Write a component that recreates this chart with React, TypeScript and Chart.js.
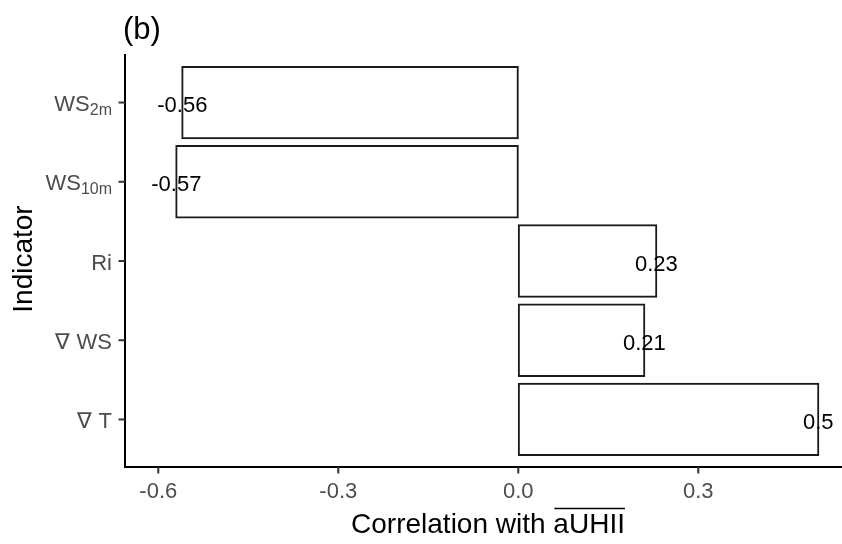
import { useEffect, useRef } from "react";
import { Chart, registerables } from "chart.js";

Chart.register(...registerables);

// Indicators, top to bottom
const indicatorNames = ["WS", "WS", "Ri", "\u2207 WS", "\u2207 T"];
const indicatorSubscripts = ["2m", "10m", "", "", ""];
// Correlation of each indicator with the mean aUHII
const correlations = [-0.56, -0.57, 0.23, 0.21, 0.5];
// Horizontal axis
const xTickValues = [-0.6, -0.3, 0.0, 0.3];
const xTickLabels = ["-0.6", "-0.3", "0.0", "0.3"];
const xLimits = [-0.6555, 0.5395];

const FONT = '"Liberation Sans", Arial, Helvetica, sans-serif';
const TICK_COLOR = "#4D4D4D";

const annotations = {
  id: "annotations",
  afterDatasetsDraw(chart: any) {
    const { ctx, chartArea, scales } = chart;
    const xs = scales.x;
    const ys = scales.y;
    ctx.save();

    // value labels centred on the end of each bar
    ctx.fillStyle = "#000";
    ctx.font = `22px ${FONT}`;
    ctx.textAlign = "center";
    ctx.textBaseline = "alphabetic";
    correlations.forEach((v, i) => {
      ctx.fillText(String(v), xs.getPixelForValue(v), ys.getPixelForValue(i) + 9.5);
    });

    // y axis ticks and labels (with subscripts)
    ctx.strokeStyle = "#333";
    ctx.lineWidth = 2;
    indicatorNames.forEach((name, i) => {
      const py = ys.getPixelForValue(i);
      ctx.beginPath();
      ctx.moveTo(chartArea.left - 6.5, py);
      ctx.lineTo(chartArea.left, py);
      ctx.stroke();

      const sub = indicatorSubscripts[i];
      ctx.font = `22px ${FONT}`;
      const wMain = ctx.measureText(name).width;
      ctx.font = `16px ${FONT}`;
      const wSub = sub ? ctx.measureText(sub).width : 0;
      const right = chartArea.left - 13;
      const start = right - wMain - wSub;
      ctx.fillStyle = TICK_COLOR;
      ctx.textAlign = "left";
      ctx.font = `22px ${FONT}`;
      ctx.fillText(name, start, py + 8.5);
      if (sub) {
        ctx.font = `16px ${FONT}`;
        ctx.fillText(sub, start + wMain, py + 12);
      }
    });

    // x axis ticks and labels
    ctx.font = `22px ${FONT}`;
    ctx.textAlign = "center";
    xTickValues.forEach((v, i) => {
      const px = xs.getPixelForValue(v);
      ctx.beginPath();
      ctx.moveTo(px, chartArea.bottom);
      ctx.lineTo(px, chartArea.bottom + 6.5);
      ctx.stroke();
      ctx.fillStyle = TICK_COLOR;
      ctx.fillText(xTickLabels[i], px, chartArea.bottom + 31);
    });

    // x axis title with overlined aUHII
    ctx.fillStyle = "#000";
    ctx.font = `28px ${FONT}`;
    ctx.textAlign = "left";
    const pre = "Correlation with ";
    const over = "aUHII";
    const wPre = ctx.measureText(pre).width;
    const wOver = ctx.measureText(over).width;
    const tx = 488 - (wPre + wOver) / 2;
    const tb = chartArea.bottom + 66;
    ctx.fillText(pre, tx, tb);
    ctx.fillText(over, tx + wPre, tb);
    ctx.strokeStyle = "#000";
    ctx.lineWidth = 1.6;
    ctx.beginPath();
    ctx.moveTo(tx + wPre + 1, tb - 24.5);
    ctx.lineTo(tx + wPre + wOver, tb - 24.5);
    ctx.stroke();

    // y axis title
    ctx.save();
    ctx.translate(32, (chartArea.top + chartArea.bottom) / 2 - 2);
    ctx.rotate(-Math.PI / 2);
    ctx.textAlign = "center";
    ctx.fillText("Indicator", 0, 0);
    ctx.restore();

    // panel tag
    ctx.font = `31px ${FONT}`;
    ctx.textAlign = "left";
    ctx.fillText("(b)", 123, 39);

    ctx.restore();
  },
};

export default function App() {
  const canvasRef = useRef<HTMLCanvasElement | null>(null);

  useEffect(() => {
    const canvas = canvasRef.current;
    if (!canvas) return;
    const chart = new Chart(canvas, {
      type: "bar",
      data: {
        datasets: [
          {
            data: correlations.map((v, i) => ({ x: v, y: i })),
            backgroundColor: "#FFFFFF",
            borderColor: "#1A1A1A",
            borderWidth: 2,
            borderSkipped: false,
            inflateAmount: 1,
            barPercentage: 0.9,
            categoryPercentage: 1,
          },
        ],
      },
      options: {
        indexAxis: "y",
        responsive: false,
        animation: false,
        devicePixelRatio: 1,
        layout: { padding: { left: 125, top: 55, right: 0, bottom: 77 } },
        plugins: {
          legend: { display: false },
          tooltip: { enabled: false },
          title: { display: false },
        },
        scales: {
          x: {
            type: "linear",
            min: xLimits[0],
            max: xLimits[1],
            afterBuildTicks: (scale: any) => {
              scale.ticks = xTickValues.map((v) => ({ value: v }));
            },
            ticks: { display: false },
            grid: { display: true, drawOnChartArea: false, drawTicks: false },
            border: { display: true, color: "#000", width: 2 },
          },
          y: {
            type: "linear",
            reverse: true,
            offset: false,
            min: -0.6,
            max: indicatorNames.length - 0.4,
            afterBuildTicks: (scale: any) => {
              scale.ticks = indicatorNames.map((_, i) => ({ value: i }));
            },
            ticks: { display: false },
            grid: { display: true, drawOnChartArea: false, drawTicks: false, offset: false },
            border: { display: true, color: "#000", width: 2 },
          },
        },
      },
      plugins: [annotations],
    } as any);
    return () => chart.destroy();
  }, []);

  return (
    <div style={{ position: "fixed", left: 0, top: 0, width: 842, height: 544, background: "#fff" }}>
      <canvas ref={canvasRef} width={842} height={544} style={{ display: "block" }} />
    </div>
  );
}
